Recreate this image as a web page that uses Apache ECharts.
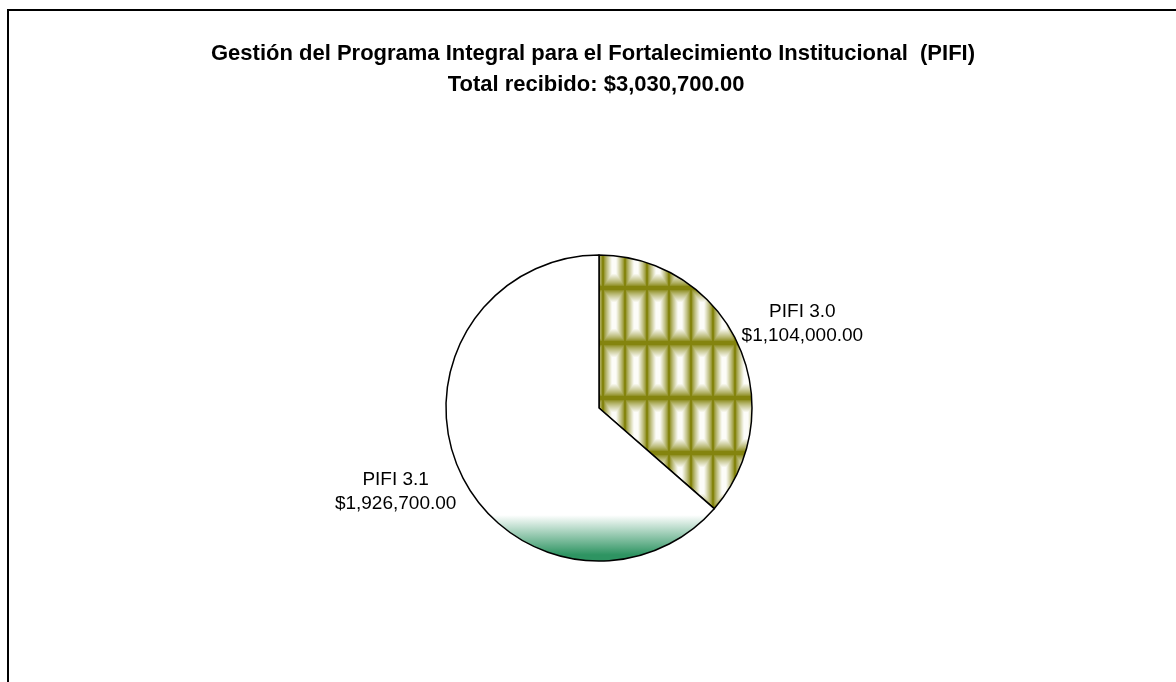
<!DOCTYPE html>
<html>
<head>
<meta charset="utf-8">
<title>PIFI</title>
<script src="https://cdn.jsdelivr.net/npm/echarts@6/dist/echarts.min.js"></script>
<style>
    html, body { margin: 0; padding: 0; background: #fff; }
    #chart { width: 1176px; height: 682px; }
</style>
</head>
<body>
<div id="chart"></div>
<script>
'use strict';

var titleLines = [
    'Gestión del Programa Integral para el Fortalecimiento Institucional  (PIFI)',
    'Total recibido: $3,030,700.00'
];
var categories = ['PIFI 3.0', 'PIFI 3.1'];
var values = [1104000, 1926700];
var valueLabels = ['$1,104,000.00', '$1,926,700.00'];

var fontFamily = '"Liberation Sans", Arial, sans-serif';

/**
 * olive grid tile with a bevelled white centre, repeated over the first slice
 * ox / oy shift the tile so the olive lines fall where the original has them
 */
function makePattern() {
    var w = 22, h = 55, ox = 9, oy = 13;
    var cv = document.createElement('canvas');
    cv.width = w;
    cv.height = h;
    var ctx = cv.getContext('2d');
    var img = ctx.createImageData(w, h);
    for (var y = 0; y < h; y++) {
        for (var x = 0; x < w; x++) {
            var px = ((x - ox) % w + w) % w + 0.5;
            var py = ((y - oy) % h + h) % h + 0.5;
            var ex = Math.min(px, w - px);   // distance to olive vertical line
            var ey = Math.min(py, h - py);   // distance to olive band
            var fx = Math.min(1, Math.max(0, (ex - 0.5) / 8.5));
            var fy = Math.min(1, Math.max(0, (ey - 1.5) / 13));
            var t = Math.pow(Math.min(fx, fy), 0.8);
            var i = (y * w + x) * 4;
            img.data[i] = Math.round(132 + (252 - 132) * t);
            img.data[i + 1] = Math.round(132 + (252 - 132) * t);
            img.data[i + 2] = Math.round(14 + (248 - 14) * t);
            img.data[i + 3] = 255;
        }
    }
    ctx.putImageData(img, 0, 0);
    return cv;
}

var cx = 599, cy = 408, radius = 153, labelDist = 220;

var seriesData = categories.map(function (name, i) {
    return { name: name, value: values[i] };
});
seriesData[0].itemStyle = {
    color: { image: makePattern(), repeat: 'repeat' }
};
seriesData[1].itemStyle = {
    color: {
        type: 'linear', global: true,
        x: 0, y: cy - radius, x2: 0, y2: cy + radius,
        colorStops: [
            { offset: 0, color: '#ffffff' },
            { offset: 0.85, color: '#ffffff' },
            { offset: 0.98, color: '#2e9462' },
            { offset: 1, color: '#2e9462' }
        ]
    }
};

var total = values.reduce(function (a, b) { return a + b; }, 0);

// put each two-line label near the mid-angle of its slice (turned a little clockwise)
function labelPos(idx) {
    var before = 0;
    for (var k = 0; k < idx; k++) { before += values[k]; }
    var mid = 90 - (before + values[idx] / 2) / total * 360 - 2;
    var rad = mid * Math.PI / 180;
    return {
        x: cx + labelDist * Math.cos(rad),
        y: cy - labelDist * Math.sin(rad)
    };
}

var titleFont = 'bold 22px ' + fontFamily;

var chart = echarts.init(document.getElementById('chart'), null, { renderer: 'canvas' });

chart.setOption({
    backgroundColor: '#ffffff',
    animation: false,
    graphic: [{
        type: 'rect',
        shape: { x: 8, y: 10, width: 1400, height: 1000 },
        style: { fill: null, stroke: '#000', lineWidth: 2 },
        silent: true
    }, {
        type: 'text',
        x: 593, y: 54,
        style: { text: titleLines[0], font: titleFont, fill: '#000', align: 'center', verticalAlign: 'middle' },
        silent: true
    }, {
        type: 'text',
        x: 596, y: 85,
        style: { text: titleLines[1], font: titleFont, fill: '#000', align: 'center', verticalAlign: 'middle' },
        silent: true
    }],
    series: [{
        type: 'pie',
        center: [cx, cy],
        radius: radius,
        startAngle: 90,
        clockwise: true,
        avoidLabelOverlap: false,
        itemStyle: { borderColor: '#000', borderWidth: 1.5 },
        emphasis: { disabled: true },
        label: {
            show: true,
            position: 'outside',
            formatter: function (p) {
                return p.name + '\n' + valueLabels[p.dataIndex];
            },
            fontFamily: fontFamily,
            fontSize: 19,
            lineHeight: 24,
            color: '#000',
            align: 'center'
        },
        labelLine: { show: false },
        labelLayout: function (params) {
            var pos = labelPos(params.dataIndex);
            return { x: pos.x, y: pos.y, align: 'center', verticalAlign: 'middle' };
        },
        data: seriesData
    }]
});
</script>
</body>
</html>
